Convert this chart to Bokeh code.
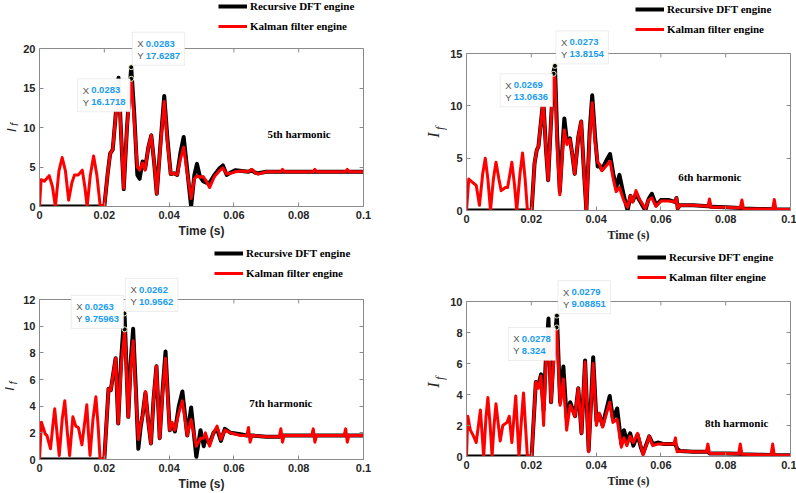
import math
from bokeh.plotting import figure
from bokeh.models import (Range1d, LinearAxis, FixedTicker, Label, Legend,
                          LegendItem, BoxAnnotation)
from bokeh.layouts import column, row
from bokeh.embed import file_html
from bokeh.resources import INLINE

# ---------------- data ----------------
x_ticks = [0, 0.02, 0.04, 0.06, 0.08, 0.1]
x_tick_labels = ["0", "0.02", "0.04", "0.06", "0.08", "0.1"]

legend_labels = ["Recursive DFT engine", "Kalman filter engine"]
harmonic_names = ["5th harmonic", "6th harmonic", "7th harmonic", "8th harmonic"]

# 5th harmonic
t5 = [0, 0.0005, 0.0015, 0.0030, 0.0040, 0.0049, 0.0060, 0.0070, 0.0080, 0.0090,
      0.0100, 0.0108, 0.0120, 0.0132, 0.0140, 0.0147, 0.0157, 0.0167, 0.0177, 0.0187,
      0.0200, 0.0210, 0.0218, 0.0226, 0.0234, 0.0244, 0.0252, 0.0260, 0.0270, 0.0283,
      0.0292, 0.0302, 0.0309, 0.0318, 0.0326, 0.0336, 0.0345, 0.0354, 0.0362, 0.0372,
      0.0385, 0.0395, 0.0405, 0.0415, 0.0425, 0.0435, 0.0445, 0.0455, 0.0468, 0.0478,
      0.0486, 0.0495, 0.0505, 0.0515, 0.0525, 0.0540, 0.0555, 0.0566, 0.0578, 0.0590,
      0.0605, 0.0625, 0.0645, 0.0655, 0.0665, 0.0675, 0.0700, 0.0745, 0.0750, 0.0755,
      0.0845, 0.0850, 0.0855, 0.0945, 0.0950, 0.0955, 0.1000]
kal5 = [0, 3.4, 3.2, 3.9, 2.5, 0.0, 4.5, 6.2, 4.5, 0.8,
        3.0, 4.0, 4.0, 4.6, 2.5, 0.0, 4.0, 6.4, 4.0, 0.2,
        0.0, 4.0, 6.7, 7.2, 11.0, 15.2, 9.0, 2.3, 10.0, 16.1718,
        11.0, 5.0, 4.6, 5.5, 4.6, 7.5, 9.0, 5.5, 1.6, 7.0,
        13.3, 8.0, 4.1, 4.2, 4.0, 6.0, 7.5, 4.5, 1.0, 3.5,
        3.9, 3.7, 3.8, 3.2, 2.4, 3.8, 4.5, 4.9, 4.1, 4.2,
        4.4, 4.5, 4.4, 4.7, 4.3, 4.1, 4.4, 4.4, 4.7, 4.4,
        4.4, 4.7, 4.4, 4.4, 4.7, 4.4, 4.4]
dft5 = [0, 0, 0, 0, 0, 0, 0, 0, 0, 0,
        0, 0, 0, 0, 0, 0, 0, 0, 0, 0,
        0, 4.0, 6.7, 7.2, 11.0, 16.3, 9.0, 2.2, 10.0, 17.6287,
        12.0, 4.0, 3.5, 5.7, 4.8, 7.5, 9.0, 5.5, 1.6, 7.2,
        14.0, 8.5, 4.1, 4.2, 4.0, 6.8, 8.8, 5.0, 0.0, 4.0,
        5.4, 3.8, 3.2, 3.0, 3.0, 4.0, 4.8, 5.2, 4.0, 4.3,
        4.6, 4.5, 4.4, 4.6, 4.3, 4.2, 4.4, 4.4, 4.4, 4.4,
        4.4, 4.4, 4.4, 4.4, 4.4, 4.4, 4.4]

# 6th harmonic
t6 = [0, 0.0007, 0.0022, 0.0030, 0.0040, 0.0050, 0.0058, 0.0066, 0.0074, 0.0083,
      0.0091, 0.0100, 0.0107, 0.0120, 0.0127, 0.0140, 0.0148, 0.0155, 0.0165, 0.0173,
      0.0181, 0.0188, 0.0201, 0.0210, 0.0217, 0.0222, 0.0230, 0.0237, 0.0245, 0.0252,
      0.0260, 0.0269, 0.0273, 0.0280, 0.0288, 0.0296, 0.0302, 0.0310, 0.0319, 0.0326,
      0.0334, 0.0345, 0.0354, 0.0362, 0.0370, 0.0380, 0.0388, 0.0397, 0.0405, 0.0411,
      0.0418, 0.0432, 0.0443, 0.0453, 0.0462, 0.0472, 0.0485, 0.0497, 0.0506, 0.0513,
      0.0523, 0.0535, 0.0552, 0.0562, 0.0572, 0.0585, 0.0600, 0.0625, 0.0645, 0.0648,
      0.0652, 0.0658, 0.0700, 0.0745, 0.0750, 0.0755, 0.0800, 0.0845, 0.0850, 0.0855,
      0.0900, 0.0945, 0.0950, 0.0955, 0.1000]
kal6 = [0, 3.0, 2.6, 2.4, 0.5, 3.5, 5.0, 3.0, 0.0, 3.0,
        4.6, 3.0, 1.9, 2.2, 2.2, 4.6, 2.5, 0.0, 3.5, 5.5,
        3.0, 0.0, 0.0, 4.5, 5.8, 6.1, 8.5, 10.4, 6.0, 2.9,
        8.0, 13.0636, 12.5, 6.0, 1.5, 5.5, 7.7, 6.3, 6.8, 5.5,
        3.5, 7.0, 8.5, 4.0, 0.0, 7.0, 10.3, 6.5, 4.6, 4.4,
        3.8, 4.3, 4.7, 3.0, 1.8, 2.2, 1.0, 0.3, 1.4, 0.8,
        1.9, 1.0, 0.2, 1.0, 1.2, 0.4, 0.9, 0.9, 0.8, 1.2,
        0.2, 0.5, 0.5, 0.4, 1.1, 0.3, 0.3, 0.25, 1.0, 0.15,
        0.15, 0.12, 1.05, 0.1, 0.1]
dft6 = [0, 0, 0, 0, 0, 0, 0, 0, 0, 0,
        0, 0, 0, 0, 0, 0, 0, 0, 0, 0,
        0, 0, 0, 4.5, 5.8, 6.1, 8.5, 10.6, 6.0, 2.9,
        8.0, 13.3, 13.8154, 7.0, 1.8, 6.0, 8.8, 6.6, 6.9, 5.5,
        3.5, 7.0, 8.5, 4.0, 0.0, 7.5, 11.0, 7.0, 4.2, 4.3,
        3.9, 4.8, 5.4, 3.5, 2.2, 3.4, 1.5, 0.0, 1.4, 0.9,
        1.6, 0.9, 0.0, 1.1, 1.6, 0.5, 1.0, 1.0, 0.8, 1.2,
        0.2, 0.5, 0.5, 0.4, 0.4, 0.35, 0.3, 0.25, 0.25, 0.2,
        0.15, 0.12, 0.12, 0.1, 0.1]

# 7th harmonic
t7 = [0, 0.0006, 0.0010, 0.0018, 0.0023, 0.0034, 0.0041, 0.0047, 0.0054, 0.0061,
      0.0070, 0.0078, 0.0086, 0.0093, 0.0103, 0.0112, 0.0120, 0.0131, 0.0146, 0.0151,
      0.0156, 0.0165, 0.0174, 0.0181, 0.0187, 0.0200, 0.0213, 0.0220, 0.0235, 0.0243,
      0.0252, 0.0262, 0.0263, 0.0274, 0.0282, 0.0289, 0.0297, 0.0305, 0.0312, 0.0318,
      0.0327, 0.0335, 0.0344, 0.0352, 0.0361, 0.0371, 0.0380, 0.0389, 0.0396, 0.0402,
      0.0409, 0.0418, 0.0430, 0.0441, 0.0456, 0.0468, 0.0484, 0.0497, 0.0507, 0.0512,
      0.0525, 0.0537, 0.0548, 0.0560, 0.0572, 0.0590, 0.0620, 0.0640, 0.0645, 0.0650,
      0.0656, 0.0700, 0.0740, 0.0745, 0.0750, 0.0755, 0.0840, 0.0845, 0.0850, 0.0855,
      0.0940, 0.0945, 0.0950, 0.0955, 0.1000]
kal7 = [0, 2.8, 2.5, 1.9, 1.8, 0.8, 2.5, 3.8, 2.0, 0.3,
        3.0, 4.4, 2.0, 0.3, 3.2, 2.5, 2.4, 1.1, 4.1, 2.0,
        0.3, 3.0, 4.7, 2.5, 0.0, 0.0, 5.3, 5.2, 7.6, 2.7,
        7.0, 9.4, 9.75963, 3.2, 7.0, 8.9, 5.0, 1.5, 2.6, 3.2,
        5.1, 3.0, 1.2, 4.5, 7.0, 1.6, 5.0, 7.6, 4.5, 2.2,
        2.8, 2.2, 3.5, 4.4, 1.8, 3.0, 1.0, 1.6, 1.6, 2.0,
        1.0, 2.0, 2.5, 1.5, 2.2, 2.0, 1.8, 1.8, 2.4, 1.3,
        1.8, 1.7, 1.7, 2.3, 1.3, 1.8, 1.8, 2.3, 1.3, 1.8,
        1.8, 2.3, 1.3, 1.8, 1.8]
dft7 = [0, 0, 0, 0, 0, 0, 0, 0, 0, 0,
        0, 0, 0, 0, 0, 0, 0, 0, 0, 0,
        0, 0, 0, 0, 0, 0, 5.3, 5.2, 7.6, 2.7,
        7.5, 10.9562, 10.6, 3.2, 7.5, 9.8, 5.5, 0.8, 2.4, 3.3,
        5.0, 3.0, 1.2, 4.5, 7.0, 1.6, 5.2, 8.1, 4.8, 2.2,
        2.6, 2.1, 4.0, 5.1, 1.8, 3.9, 0.2, 2.2, 1.0, 1.6,
        1.2, 2.0, 2.3, 1.4, 2.3, 2.0, 1.9, 1.8, 1.8, 1.8,
        1.8, 1.7, 1.7, 1.8, 1.8, 1.8, 1.8, 1.8, 1.8, 1.8,
        1.8, 1.8, 1.8, 1.8, 1.8]

# 8th harmonic
t8 = [0, 0.0004, 0.0012, 0.0022, 0.0030, 0.0043, 0.0053, 0.0060, 0.0066, 0.0073,
      0.0079, 0.0085, 0.0091, 0.0104, 0.0112, 0.0125, 0.0132, 0.0140, 0.0152, 0.0162,
      0.0170, 0.0176, 0.0182, 0.0188, 0.0201, 0.0214, 0.0222, 0.0230, 0.0238, 0.0246,
      0.0253, 0.0261, 0.0270, 0.0278, 0.0279, 0.0289, 0.0299, 0.0309, 0.0320, 0.0335,
      0.0345, 0.0355, 0.0366, 0.0377, 0.0391, 0.0401, 0.0410, 0.0420, 0.0442, 0.0452,
      0.0465, 0.0478, 0.0486, 0.0495, 0.0505, 0.0515, 0.0528, 0.0538, 0.0545, 0.0564,
      0.0575, 0.0590, 0.0610, 0.0640, 0.0645, 0.0650, 0.0660, 0.0700, 0.0740, 0.0745,
      0.0750, 0.0800, 0.0840, 0.0845, 0.0850, 0.0900, 0.0940, 0.0945, 0.0950, 0.1000]
kal8 = [0, 2.6, 1.7, 1.3, 0.9, 3.0, 0.0, 2.5, 3.8, 2.0,
        0.0, 2.0, 3.4, 1.0, 2.0, 2.2, 2.6, 0.9, 3.9, 0.0,
        2.5, 4.1, 2.0, 0.0, 0.0, 4.8, 4.4, 5.2, 2.0, 6.5,
        8.2, 3.5, 6.5, 8.324, 8.1, 3.3, 5.0, 1.7, 3.3, 2.6,
        4.4, 1.5, 6.1, 0.3, 6.0, 2.0, 2.8, 1.9, 3.5, 2.2,
        2.4, 0.6, 1.2, 0.7, 1.3, 0.9, 1.5, 0.7, 0.1, 1.3,
        0.7, 0.8, 0.8, 0.8, 1.2, 0.3, 0.35, 0.3, 0.3, 0.8,
        0.2, 0.2, 0.18, 0.8, 0.15, 0.12, 0.1, 0.8, 0.08, 0.08]
dft8 = [0, 0, 0, 0, 0, 0, 0, 0, 0, 0,
        0, 0, 0, 0, 0, 0, 0, 0, 0, 0,
        0, 0, 0, 0, 0, 4.8, 4.6, 5.3, 3.0, 6.8,
        8.9, 3.5, 7.0, 8.9, 9.08851, 3.5, 5.8, 2.5, 3.5, 2.6,
        4.4, 1.5, 6.2, 0.4, 6.4, 2.3, 2.7, 2.0, 3.9, 2.4,
        3.1, 0.8, 1.7, 1.0, 1.5, 0.7, 1.4, 0.6, 0.2, 1.3,
        0.8, 0.9, 0.8, 0.8, 0.8, 0.5, 0.35, 0.3, 0.3, 0.3,
        0.2, 0.2, 0.18, 0.18, 0.15, 0.12, 0.1, 0.1, 0.08, 0.08]

y_max = [20, 15, 12, 10]
y_ticks = [[0, 5, 10, 15, 20], [0, 5, 10, 15], [0, 2, 4, 6, 8, 10, 12], [0, 2, 4, 6, 8, 10]]

# ---------------- style ----------------
SANS = "Liberation Sans"
SERIF = "Liberation Serif"
FRAME_GRAY = "#8a8a8a"
TEXT_DARK = "#262626"
TIP_GRAY = "#555555"
TIP_BLUE = "#1a9cf0"
TIP_FS = 9.5
BOX_W = 326          # width of the axes box in px
TICK_LEN = 4


def value_width(s):
    # approximate advance width of a numeric string in px
    em = sum(0.278 if ch == "." else 0.556 for ch in s)
    return em * TIP_FS


def add_tip(p, t, v, side, sx, sy):
    xs, ys = "%.4g" % t, "%.6g" % v
    w = 18.5 + max(value_width(xs), value_width(ys))
    h = 33.0
    if side == "ur":      # box above-right of the point
        left = t + 1.0 / sx
        bottom = v + 2.0 / sy
    elif side == "ll":    # box below-left of the point
        left = t - (w + 1.0) / sx
        bottom = v - h / sy
    else:                 # "ul": box above-left of the point
        left = t - (w + 1.0) / sx
        bottom = v + 1.0 / sy
    right = left + w / sx
    top = bottom + h / sy
    p.add_layout(BoxAnnotation(left=left, right=right, bottom=bottom, top=top,
                               fill_color="white", fill_alpha=0.96,
                               line_color="#c4c4c4", line_width=1))
    for i, (k, s) in enumerate([("X", xs), ("Y", ys)]):
        yoff = -11.5 - 12.0 * i
        p.add_layout(Label(x=left, y=top, x_offset=5, y_offset=yoff, text=k,
                           text_font=SANS, text_font_size="%.1fpx" % TIP_FS,
                           text_color=TIP_GRAY, text_baseline="middle", text_align="left"))
        p.add_layout(Label(x=left, y=top, x_offset=13.5, y_offset=yoff, text=s,
                           text_font=SANS, text_font_size="%.1fpx" % TIP_FS,
                           text_font_style="bold", text_color=TIP_BLUE,
                           text_baseline="middle", text_align="left"))
    p.scatter([t], [v], size=5, fill_color="black", line_color="#f2eec8", line_width=1)


def make_ylabel(cfg, H):
    """Narrow strip left of the axes that carries the rotated I_f label."""
    lw = cfg["lw"]
    q = figure(width=lw, height=H, x_range=Range1d(0, lw), y_range=Range1d(0, H),
               x_axis_location=None, y_axis_location=None, toolbar_location=None,
               output_backend="svg", min_border=0, outline_line_color=None,
               background_fill_color="white", border_fill_color="white")
    q.grid.visible = False
    serif = cfg["serif"]
    font = SERIF if serif else SANS
    big, small = ("16px", "12px") if serif else ("13px", "10px")
    (ix, iy), (fx, fy) = cfg["ylab"]
    q.add_layout(Label(x=ix, y=iy, text="I", text_font=font, text_font_style="italic",
                       text_font_size=big, angle=math.pi / 2, text_align="center",
                       text_baseline="middle", text_color=TEXT_DARK))
    q.add_layout(Label(x=fx, y=fy, text="f", text_font=font, text_font_style="italic",
                       text_font_size=small, angle=math.pi / 2, text_align="center",
                       text_baseline="middle", text_color=TEXT_DARK))
    return q


def make_panel(t, dft, kal, idx, cfg):
    ymax = y_max[idx]
    W, H = 398, cfg["h"]
    lw = cfg["lw"]
    bl, br, bb = 17, cfg["br"], cfg["bb"]
    box_top = cfg["box_top"]
    fh = H - bb                  # frame runs from the top edge down to the x axis
    box_h = fh - box_top
    y_ext = ymax * fh / box_h
    sx = BOX_W / 0.1
    sy = box_h / ymax

    p = figure(width=W - lw, height=H, x_range=Range1d(0, 0.1), y_range=Range1d(0, y_ext),
               output_backend="svg", toolbar_location=None,
               min_border_left=bl, min_border_right=br,
               min_border_top=0, min_border_bottom=bb,
               background_fill_color="white", border_fill_color="white")
    p.grid.visible = False
    p.outline_line_color = None

    serif_labels = cfg["serif"]
    xa = p.xaxis[0]
    xa.ticker = FixedTicker(ticks=x_ticks)
    xa.major_label_overrides = dict(zip(x_ticks, x_tick_labels))
    xa.axis_label = "Time (s)"
    xa.axis_label_text_font = SERIF if serif_labels else SANS
    xa.axis_label_text_font_style = "bold"
    xa.axis_label_text_font_size = "12px"
    xa.axis_label_text_color = TEXT_DARK
    xa.axis_label_standoff = 2
    ya = p.yaxis[0]
    ya.ticker = FixedTicker(ticks=y_ticks[idx])
    ya.bounds = (0, ymax)
    for ax in (xa, ya):
        ax.major_label_text_font = SANS
        ax.major_label_text_font_style = "bold"
        ax.major_label_text_font_size = "11px"
        ax.major_label_text_color = TEXT_DARK
        ax.major_label_standoff = 4
        ax.major_tick_in = TICK_LEN
        ax.major_tick_out = 0
        ax.minor_tick_in = 0
        ax.minor_tick_out = 0
        ax.axis_line_color = FRAME_GRAY
        ax.major_tick_line_color = FRAME_GRAY
    # right edge of the box: ticks only
    p.add_layout(LinearAxis(ticker=FixedTicker(ticks=y_ticks[idx]), bounds=(0, ymax),
                            major_label_text_color=None, major_label_text_font_size="1px",
                            major_label_standoff=0,
                            major_tick_in=TICK_LEN, major_tick_out=0,
                            minor_tick_in=0, minor_tick_out=0,
                            axis_line_color=FRAME_GRAY,
                            major_tick_line_color=FRAME_GRAY), "right")
    # top edge of the box with its inward ticks
    p.segment(x0=[x_ticks[0]], y0=[ymax], x1=[x_ticks[-1]], y1=[ymax],
              line_color=FRAME_GRAY, line_width=1)
    p.segment(x0=x_ticks, y0=[ymax] * len(x_ticks), x1=x_ticks,
              y1=[ymax - TICK_LEN / sy] * len(x_ticks),
              line_color=FRAME_GRAY, line_width=1)

    r_dft = p.line(t, dft, line_color="black", line_width=4, line_join="round")
    r_kal = p.line(t, kal, line_color="#ff0000", line_width=3, line_join="round")

    legend = Legend(items=[LegendItem(label=legend_labels[0], renderers=[r_dft]),
                           LegendItem(label=legend_labels[1], renderers=[r_kal])],
                    location=cfg["legend"], orientation="vertical",
                    padding=0, margin=0, spacing=0,
                    glyph_width=29, glyph_height=20, label_height=20, label_standoff=3,
                    label_text_font=SERIF, label_text_font_style="bold",
                    label_text_font_size="11px", label_text_color="black",
                    background_fill_alpha=0, border_line_alpha=0)
    p.add_layout(legend)

    hx, hy = cfg["harm"]
    p.add_layout(Label(x=hx, y=hy, text=harmonic_names[idx], text_font=SERIF,
                       text_font_style="bold", text_font_size="11px",
                       text_align="center", text_baseline="middle", text_color="black"))

    # data tips at the peaks of both estimates
    i_d = max(range(len(dft)), key=lambda i: dft[i])
    i_k = max(range(len(kal)), key=lambda i: kal[i])
    add_tip(p, t[i_d], dft[i_d], "ur", sx, sy)
    add_tip(p, t[i_k], kal[i_k], cfg["kal_tip"], sx, sy)

    return row(make_ylabel(cfg, H), p)


cfgs = [
    dict(h=248, lw=20, br=35, bb=42, box_top=48, serif=False, legend=(179, 170.5),
         harm=(0.0801, 9.2), ylab=((10.5, 92), (14, 99)), kal_tip="ll"),
    dict(h=248, lw=49, br=6, bb=38, box_top=53, serif=True, legend=(169, 171),
         harm=(0.0751, 3.16), ylab=((35, 89), (41, 97)), kal_tip="ll"),
    dict(h=245, lw=20, br=35, bb=34, box_top=51, serif=False, legend=(175, 176),
         harm=(0.0745, 4.24), ylab=((9, 82), (12.5, 89)), kal_tip="ul"),
    dict(h=245, lw=49, br=6, bb=37, box_top=53, serif=True, legend=(171, 169),
         harm=(0.0834, 2.19), ylab=((35, 84), (41, 92)), kal_tip="ll"),
]

series = [(t5, dft5, kal5), (t6, dft6, kal6), (t7, dft7, kal7), (t8, dft8, kal8)]
panels = [make_panel(s[0], s[1], s[2], i, cfgs[i]) for i, s in enumerate(series)]

layout = column(row(panels[0], panels[1]), row(panels[2], panels[3]))
open("out.html", "w").write(file_html(layout, INLINE))
